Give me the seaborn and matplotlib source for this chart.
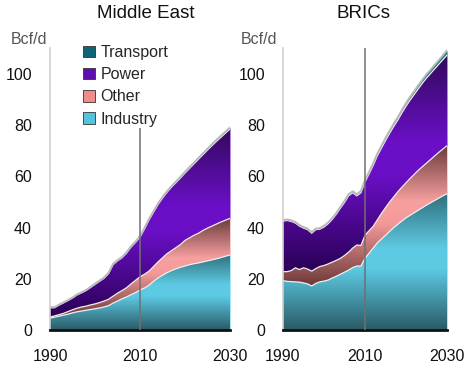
import numpy as np
import pandas as pd
import seaborn as sns
import matplotlib.pyplot as plt
from matplotlib.colors import LinearSegmentedColormap
from matplotlib.patches import Patch

# -------------------------------
# Data (Bcf/d), stacked levels
# -------------------------------
years = list(range(1990, 2031))

# Middle East
me_industry = [4.6, 5.0, 5.4, 5.8, 6.2, 6.7, 7.1, 7.4, 7.7, 8.0, 8.3, 8.6, 9.0, 9.5, 10.5,
               11.3, 12.2, 12.9, 13.8, 14.6, 15.6, 16.4, 17.5, 19.0, 20.3, 21.4, 22.4, 23.2,
               23.9, 24.5, 25.0, 25.5, 25.9, 26.2, 26.6, 27.0, 27.4, 27.8, 28.3, 28.8, 29.3]
me_other = [5.1, 5.5, 6.0, 6.5, 7.2, 7.9, 8.5, 9.0, 9.3, 9.8, 10.2, 10.7, 11.3, 12.0, 13.2,
            14.4, 15.4, 16.5, 18.0, 19.4, 20.8, 21.8, 23.0, 24.8, 26.6, 28.2, 29.8, 31.0,
            32.2, 33.4, 35.0, 36.0, 37.0, 37.8, 38.9, 39.8, 40.6, 41.4, 42.2, 42.9, 43.6]
me_power = [8.7, 8.7, 9.7, 10.6, 11.5, 12.5, 13.7, 14.5, 15.4, 16.6, 17.8, 19.0, 20.2, 22.0,
            25.5, 27.0, 28.2, 30.0, 32.4, 34.2, 36.3, 39.5, 43.0, 46.0, 49.0, 51.5, 53.8,
            55.8, 57.6, 59.4, 61.3, 63.1, 64.9, 66.7, 68.5, 70.3, 72.0, 73.7, 75.3, 76.9, 78.5]
me_transport = [0.2, 0.2, 0.2, 0.2, 0.2, 0.2, 0.2, 0.2, 0.2, 0.2, 0.3, 0.3, 0.3, 0.3, 0.3,
                0.3, 0.3, 0.3, 0.3, 0.3, 0.4, 0.4, 0.4, 0.4, 0.4, 0.4, 0.4, 0.4, 0.4, 0.5,
                0.5, 0.5, 0.5, 0.5, 0.5, 0.5, 0.6, 0.6, 0.6, 0.6, 0.6]

# BRICs
br_industry = [19.3, 19.0, 18.9, 18.8, 18.7, 18.4, 18.0, 17.2, 18.2, 18.8, 19.1, 19.5, 20.3,
               21.0, 21.8, 22.6, 23.4, 24.4, 25.0, 25.0, 28.0, 30.0, 32.0, 34.0, 35.5, 37.0,
               38.5, 40.0, 41.3, 42.6, 43.8, 44.8, 45.8, 46.8, 47.8, 48.8, 49.7, 50.6, 51.5,
               52.4, 53.2]
br_other = [22.8, 22.8, 23.2, 24.3, 23.6, 24.3, 23.8, 23.0, 24.0, 24.8, 25.2, 25.8, 26.5,
            27.2, 28.0, 29.1, 30.4, 32.0, 33.2, 33.0, 37.0, 38.8, 40.5, 43.0, 45.5, 47.8,
            50.0, 52.0, 54.0, 55.8, 57.5, 59.2, 60.8, 62.4, 63.8, 65.2, 66.6, 68.0, 69.4,
            70.7, 72.0]
br_power = [42.5, 42.8, 42.4, 41.8, 40.6, 39.8, 39.2, 37.8, 39.2, 39.4, 40.2, 41.5, 43.2,
            45.2, 47.6, 49.8, 52.4, 53.6, 52.4, 53.6, 57.8, 61.0, 64.3, 68.0, 71.0, 74.0,
            76.8, 79.5, 82.0, 84.8, 87.4, 89.8, 92.0, 94.2, 96.4, 98.4, 100.2, 102.0, 103.8,
            105.6, 107.4]
br_transport = [0.4, 0.4, 0.4, 0.4, 0.4, 0.4, 0.4, 0.4, 0.4, 0.4, 0.5, 0.5, 0.5, 0.5, 0.5,
                0.6, 0.6, 0.6, 0.6, 0.7, 0.7, 0.8, 0.8, 0.9, 0.9, 1.0, 1.0, 1.1, 1.1, 1.2,
                1.2, 1.3, 1.3, 1.4, 1.4, 1.5, 1.5, 1.6, 1.6, 1.7, 1.8]

sectors = ['Industry', 'Other', 'Power', 'Transport']
yticks = [0, 20, 40, 60, 80, 100]
xticks = [1990, 2010, 2030]

# gradient colours per layer (bottom -> middle -> top of the layer)
grad = {
    'Industry': ['#2a5a66', '#5ccbe4', '#5ec9e2', '#2f6e7c'],
    'Other': ['#6b3838', '#f59a9a', '#f7a0a0', '#6a3a3a'],
    'Power': ['#2a0055', '#6a0fc6', '#6a0fc6', '#320a5c'],
    'Transport': ['#14707f', '#14707f', '#14707f', '#14707f'],
}
legend_colors = {'Transport': '#0f6478', 'Power': '#5e0fb0', 'Other': '#f08c8c',
                 'Industry': '#55c3dc'}

sns.set_style('white')
plt.rcParams['font.family'] = ['Liberation Sans', 'DejaVu Sans']

fig = plt.figure(figsize=(4.68, 3.72), dpi=100)
ax_me = fig.add_axes([50 / 468, 42 / 372, 180 / 468, 281.6 / 372])
ax_br = fig.add_axes([283 / 468, 42 / 372, 164 / 468, 281.6 / 372])


def draw_panel(ax, industry, other, power, transport, title, title_x, unit_x, vline_top):
    x = np.array(years, dtype=float)
    levels = [np.zeros(len(x)), np.array(industry), np.array(other), np.array(power)]
    levels.append(levels[-1] + np.array(transport))

    for i, name in enumerate(sectors):
        lo, hi = levels[i], levels[i + 1]
        poly = ax.fill_between(x, lo, hi, color=grad[name][1], lw=0, zorder=1)
        cmap = LinearSegmentedColormap.from_list(name, list(zip([0, 0.45, 0.6, 1], grad[name])))
        g = np.linspace(0, 1, 256).reshape(-1, 1)
        img = ax.imshow(g, cmap=cmap, origin='lower', aspect='auto', interpolation='bilinear',
                        extent=(x[0], x[-1], lo.min(), hi.max()), zorder=1.5)
        img.set_clip_path(poly.get_paths()[0], transform=ax.transData)

    # light boundary lines between layers
    bounds = pd.DataFrame({'year': np.tile(x, 3),
                           'value': np.concatenate(levels[1:4]),
                           'level': np.repeat(['i', 'o', 'p'], len(x))})
    sns.lineplot(data=bounds, x='year', y='value', units='level', estimator=None,
                 color='#f0eeee', lw=0.9, ax=ax, zorder=2)
    sns.lineplot(x=x, y=levels[4], color='#b8b8b8', lw=1.4, ax=ax, zorder=2)

    ax.vlines(2010, 0, vline_top, color='#707070', lw=1.1, zorder=3)

    ax.set_xlim(1990, 2030)
    ax.set_ylim(0, 110)
    ax.set_xticks(xticks)
    ax.set_yticks(yticks)
    ax.set_xlabel('')
    ax.set_ylabel('')
    ax.tick_params(axis='both', length=0, labelsize=11.5, colors='#111111')
    ax.tick_params(axis='y', pad=13)
    ax.tick_params(axis='x', pad=14)
    sns.despine(ax=ax)
    ax.spines['left'].set_color('#cfcfcf')
    ax.spines['left'].set_linewidth(1.2)
    ax.spines['bottom'].set_color('#111111')
    ax.spines['bottom'].set_linewidth(2)
    ax.text(title_x, 1.125, title, transform=ax.transAxes, ha='center', va='center',
            fontsize=13.5, color='#111111')
    ax.text(unit_x, 1.033, 'Bcf/d', transform=ax.transAxes, ha='left', va='center',
            fontsize=11.5, color='#555555')


draw_panel(ax_me, me_industry, me_other, me_power, me_transport,
           'Middle East', 0.53, -0.22, 79)
draw_panel(ax_br, br_industry, br_other, br_power, br_transport,
           'BRICs', 0.49, -0.256, 110)

handles = [Patch(facecolor=legend_colors[s], edgecolor='#333333', lw=0.6, label=s)
           for s in ['Transport', 'Power', 'Other', 'Industry']]
ax_me.legend(handles=handles, loc='upper left', bbox_to_anchor=(83 / 468, 1 - 45 / 372),
             bbox_transform=fig.transFigure, frameon=False, borderpad=0, borderaxespad=0,
             handlelength=0.75, handleheight=0.75, handletextpad=0.35, labelspacing=0.45,
             fontsize=11.5)

fig.savefig('out.png', dpi=100)
